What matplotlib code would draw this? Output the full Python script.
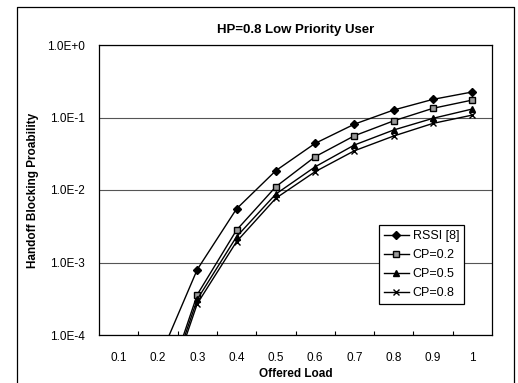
"""
Handoff blocking probability vs offered load (HP=0.8, low priority user).
"""

import matplotlib
matplotlib.use("Agg")
import matplotlib.pyplot as plt

plt.rcParams["font.family"] = ["Liberation Sans", "DejaVu Sans"]

# data
offered_load = [0.2, 0.3, 0.4, 0.5, 0.6, 0.7, 0.8, 0.9, 1.0]
rssi = [4.3e-5, 8.0e-4, 5.5e-3, 1.85e-2, 4.4e-2, 8.1e-2, 0.127, 0.178, 0.225]
cp_02 = [9e-6, 3.6e-4, 2.8e-3, 1.11e-2, 2.88e-2, 5.6e-2, 0.090, 0.134, 0.174]
cp_05 = [8e-6, 3.1e-4, 2.27e-3, 8.8e-3, 2.09e-2, 4.18e-2, 0.0673, 0.0975, 0.131]
cp_08 = [7e-6, 2.7e-4, 1.94e-3, 7.7e-3, 1.79e-2, 3.48e-2, 0.0556, 0.083, 0.108]

x_ticks = [0.1, 0.2, 0.3, 0.4, 0.5, 0.6, 0.7, 0.8, 0.9, 1.0]
x_tick_labels = ["0.1", "0.2", "0.3", "0.4", "0.5", "0.6", "0.7", "0.8", "0.9", "1"]
y_ticks = [1e-4, 1e-3, 1e-2, 1e-1, 1e0]
y_tick_labels = ["1.0E-4", "1.0E-3", "1.0E-2", "1.0E-1", "1.0E+0"]

fig = plt.figure(figsize=(5.18, 3.83), dpi=100)
ax = fig.add_axes([99 / 518, 1 - 335 / 383, 393 / 518, 290 / 383])

# outer chart-area frame (left, top, right only, bottom runs off the picture)
fig.add_artist(plt.Line2D([17 / 518, 17 / 518, 514 / 518, 514 / 518],
                          [-0.01, 1 - 7 / 383, 1 - 7 / 383, -0.01],
                          transform=fig.transFigure, color="black", lw=0.9))

style = dict(color="black", lw=1.0)
ax.plot(offered_load, rssi, marker="D", ms=4, mfc="black", mec="black", label="RSSI [8]", **style)
ax.plot(offered_load, cp_02, marker="s", ms=5, mfc="#9a9a9a", mec="black", mew=1.0, label="CP=0.2", **style)
ax.plot(offered_load, cp_05, marker="^", ms=5, mfc="black", mec="black", label="CP=0.5", **style)
ax.plot(offered_load, cp_08, marker="x", ms=5, mec="black", mew=1.0, label="CP=0.8", **style)

ax.set_yscale("log")
ax.set_ylim(1e-4, 1)
ax.set_xlim(0.05, 1.05)
ax.set_yticks(y_ticks)
ax.set_yticklabels(y_tick_labels)
ax.minorticks_off()
ax.set_xticks(x_ticks)
ax.set_xticklabels(x_tick_labels)
ax.set_xticks([0.15 + 0.1 * i for i in range(9)], minor=True)
ax.tick_params(axis="x", which="major", length=0, pad=12, labelsize=8.5)
ax.tick_params(axis="x", which="minor", direction="in", length=3, width=0.8)
ax.tick_params(axis="y", which="major", length=0, pad=10, labelsize=8.5)

ax.grid(axis="y", which="major", color="#555555", lw=0.8)
for spine in ax.spines.values():
    spine.set_linewidth(0.9)

ax.set_title("HP=0.8 Low Priority User", fontsize=9.5, fontweight="bold", pad=9)
ax.set_xlabel("Offered Load", fontsize=8.5, fontweight="bold", labelpad=3)
ax.set_ylabel("Handoff Blocking Proability", fontsize=8.5, fontweight="bold", labelpad=6)

leg = ax.legend(loc="lower right", bbox_to_anchor=(0.945, 0.085), fontsize=9,
                frameon=True, fancybox=False, edgecolor="black", framealpha=1,
                handlelength=2.0, handletextpad=0.3, borderpad=0.4, labelspacing=0.55)
leg.get_frame().set_linewidth(0.9)

fig.savefig("out.png", dpi=100)
